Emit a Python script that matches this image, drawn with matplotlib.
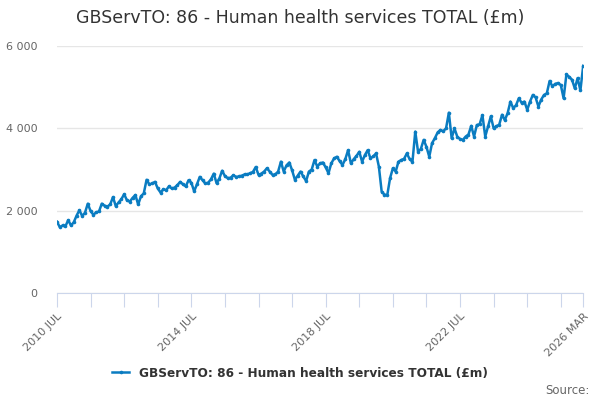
import numpy as np
import matplotlib
matplotlib.use("Agg")
import matplotlib.pyplot as plt
from matplotlib.lines import Line2D

title = "GBServTO: 86 - Human health services TOTAL (£m)"
tick_idx = [0, 12, 24, 36, 48, 60, 72, 84, 96, 108, 120, 132, 144, 156, 168, 180, 188]
tick_labels = ["2010 JUL", "", "", "", "2014 JUL", "", "", "", "2018 JUL", "", "", "",
               "2022 JUL", "", "", "", "2026 MAR"]
y_ticks = [0, 2000, 4000, 6000]
y_labels = ["0", "2 000", "4 000", "6 000"]

# monthly values, 2010 JUL .. 2026 MAR
values = [
    1730, 1600, 1640, 1620, 1770, 1640, 1720, 1880, 2010, 1870, 1950, 2170,
    1990, 1900, 1960, 1980, 2170, 2120, 2100, 2150, 2330, 2110, 2200, 2280,
    2400, 2250, 2220, 2310, 2380, 2150, 2350, 2420, 2750, 2640, 2660, 2700,
    2540, 2440, 2520, 2500, 2590, 2540, 2560, 2620, 2700, 2640, 2590, 2740,
    2680, 2470, 2640, 2820, 2740, 2660, 2680, 2760, 2900, 2670, 2780, 2970,
    2840, 2790, 2800, 2860, 2820, 2830, 2850, 2880, 2880, 2910, 2940, 3060,
    2870, 2900, 2950, 3030, 2950, 2870, 2880, 2950, 3190, 2950, 3100, 3170,
    2980, 2750, 2850, 2950, 2830, 2720, 2950, 3000, 3230, 3070, 3150, 3170,
    3050, 2910, 3150, 3270, 3310, 3200, 3110, 3250, 3470, 3150, 3250, 3330,
    3430, 3190, 3350, 3470, 3270, 3320, 3390, 3070, 2460, 2390, 2380, 2790,
    3030, 2950, 3190, 3230, 3260, 3390, 3250, 3190, 3920, 3430, 3500, 3720,
    3550, 3310, 3640, 3760, 3900, 3960, 3930, 4000, 4380, 3760, 4000, 3800,
    3740, 3720, 3800, 3850, 4060, 3800, 4080, 4100, 4320, 3800, 4050, 4290,
    4000, 4050, 4090, 4330, 4200, 4370, 4650, 4490, 4560, 4730, 4620, 4650,
    4450, 4650, 4810, 4750, 4530, 4700, 4810, 4850, 5150, 5020, 5080, 5100,
    5050, 4730, 5310, 5250, 5180, 4970, 5220, 4920, 5520,
]

line_color = "#0a7cc1"

fig = plt.figure(figsize=(6, 4), dpi=100)
ax = fig.add_axes([0.095, 0.2675, 0.877, 0.6175])

x = np.arange(len(values))
ax.plot(x, values, color=line_color, linewidth=1.8, marker="o", markersize=2.6,
        markeredgewidth=0, zorder=3)

ax.set_xlim(0, len(values) - 1)
ax.set_ylim(0, 6000)
ax.set_yticks(y_ticks)
ax.set_yticklabels(y_labels)
ax.set_xticks(tick_idx)
ax.set_xticklabels(tick_labels, rotation=45, ha="right", rotation_mode="anchor")

ax.grid(axis="y", color="#e6e6e6", linewidth=1)
ax.set_axisbelow(True)
for side in ["top", "right", "left"]:
    ax.spines[side].set_visible(False)
ax.spines["bottom"].set_color("#ccd6eb")
ax.tick_params(axis="y", length=0, labelsize=8, labelcolor="#666666", pad=14)
ax.tick_params(axis="x", length=10, color="#ccd6eb", labelsize=8,
               labelcolor="#666666", pad=3)

fig.text(0.5, 0.955, title, ha="center", va="center", fontsize=12.5, color="#333333")

handle = Line2D([], [], color=line_color, linewidth=1.8, marker="o", markersize=2.6,
                markeredgewidth=0)
leg = fig.legend([handle], [title], loc="center", bbox_to_anchor=(0.5, 0.067),
                 frameon=False, handlelength=1.4, prop={"size": 8.7, "weight": "bold"})
for t in leg.get_texts():
    t.set_color("#333333")

fig.text(0.982, 0.025, "Source:", ha="right", va="center", fontsize=8.5, color="#666666")

fig.savefig("out.png", dpi=100)
